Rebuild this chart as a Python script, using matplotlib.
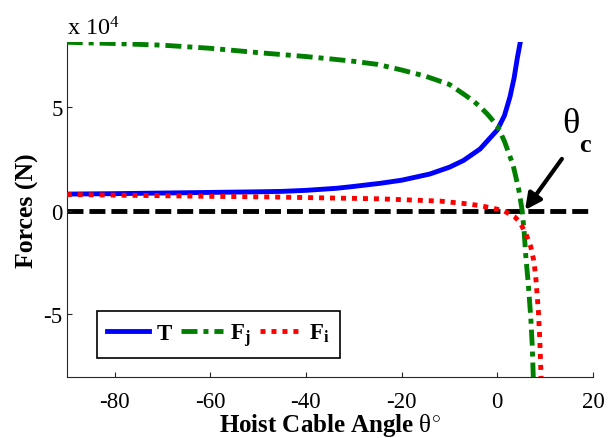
import matplotlib
matplotlib.use("Agg")
import matplotlib.pyplot as plt

plt.rcParams['font.family'] = ['Liberation Serif', 'DejaVu Serif']
plt.rcParams['mathtext.fontset'] = 'custom'
plt.rcParams['mathtext.rm'] = 'Liberation Serif'
plt.rcParams['mathtext.it'] = 'Liberation Serif:italic'
plt.rcParams['mathtext.bf'] = 'Liberation Serif:bold'
plt.rcParams['axes.unicode_minus'] = False
plt.rcParams['lines.scale_dashes'] = False

# ---- data (forces in N, angle in degrees) ----
theta_T = [-90, -80, -70, -60, -50, -45, -40, -33.6, -30, -24.5, -20, -14.1,
           -10, -7.1, -3.6, 0, 1.5, 2.65, 3.5, 4.2, 4.8]
T = [8000, 8200, 8500, 8800, 9100, 9300, 9800, 10800, 11700, 13200, 14700,
     17700, 21000, 24200, 29800, 39000, 46000, 55000, 64000, 74000, 81400]

theta_Fj = [-90, -80, -70, -60, -50, -40, -35, -30, -25, -20, -15, -10, -7,
            -5, -3.5, -2, 0, 1.5, 3.3, 4.5, 5.2, 5.6, 6.0, 6.5, 7.0, 7.3, 7.52]
Fj = [81400, 80800, 80000, 78500, 76400, 74500, 73400, 72200, 70700, 68000,
      65000, 61000, 56300, 53000, 50000, 46500, 41000, 33500, 22000, 10000,
      0, -10000, -23300, -36000, -52000, -65000, -80600]

theta_Fi = [-90, -80, -70, -60, -47, -40, -24.5, -20, -12, -6.4, -3.6, -1,
            1.25, 2.5, 3.7, 4.5, 5.1, 6.1, 7.0, 7.6, 8.0, 8.3, 8.6, 8.9, 9.15]
Fi = [7800, 7500, 7200, 6900, 6600, 6300, 5700, 5300, 4600, 3300, 2400, 1200,
      0, -1500, -3200, -5000, -7300, -12000, -17500, -24000, -31000, -40000,
      -49000, -63500, -80600]

zero_x = [-90, 20]
zero_y = [0, 0]

xticks = [-80, -60, -40, -20, 0, 20]
yticks = [-50000, 0, 50000]
ytick_labels = ['-5', '0', '5']
labels = ['T', r'$\mathbf{F_j}$', r'$\mathbf{F_i}$']

fig = plt.figure(figsize=(6.15, 4.39), dpi=100)
ax = fig.add_axes([0.1085, 0.1383, 0.8557, 0.7631])

lw = 3.5
ax.plot(zero_x, zero_y, color='k', lw=lw, linestyle=(0, (11.5, 4.3)),
        dash_capstyle='butt', zorder=1)
l1, = ax.plot(theta_T, T, color='#0000ff', lw=lw, label=labels[0], zorder=2)
l2, = ax.plot(theta_Fj, Fj, color='#007f00', lw=lw, label=labels[1],
              linestyle=(0, (11.5, 4.3, 3.6, 4.3)), zorder=3)
l3, = ax.plot(theta_Fi, Fi, color='#ff0000', lw=lw, label=labels[2],
              linestyle=(0, (3.6, 4.3)), zorder=4)

ax.set_xlim(-90, 20)
ax.set_ylim(-80600, 81400)
ax.set_xticks(xticks)
ax.set_xticklabels([str(v) for v in xticks])
ax.set_yticks(yticks)
ax.set_yticklabels(ytick_labels)

for s in ['top', 'right']:
    ax.spines[s].set_visible(False)
for s in ['left', 'bottom']:
    ax.spines[s].set_color('#262626')
    ax.spines[s].set_linewidth(0.8)
ax.tick_params(direction='in', length=3.5, width=0.8, color='#262626',
               labelsize=16.5)
ax.tick_params(axis='x', pad=10)
ax.tick_params(axis='y', pad=3)

ax.set_xlabel(r'$\mathbf{Hoist\ Cable\ Angle}\ \mathrm{\theta}^{\circ}$',
              fontsize=18, labelpad=-1)
ax.set_ylabel('Forces (N)', fontsize=18.5, fontweight='bold', labelpad=3)

fig.text(67/615, 1 - 35/439, r'x 10$^{4}$', fontsize=17.5, va='baseline',
         ha='left')

# theta_c annotation
ax.annotate('', xy=(5.8, 300), xytext=(13.5, 25000),
            arrowprops=dict(arrowstyle='-|>', lw=3, color='k',
                            mutation_scale=24, shrinkA=0, shrinkB=0))
ax.text(13.5, 42000, 'θ', fontsize=26, ha='left', va='center')
ax.text(18.4, 31800, 'c', fontsize=19, fontweight='bold', ha='center',
        va='center')

leg = ax.legend(handles=[l1, l2, l3], loc='lower left',
                bbox_to_anchor=(0.057, 0.057), borderaxespad=0, ncol=3,
                fancybox=False, framealpha=1, edgecolor='k',
                prop={'weight': 'bold', 'size': 16.5},
                handlelength=1.85, handletextpad=0.3, columnspacing=0.4,
                borderpad=0.45)
leg.get_frame().set_linewidth(1.2)

fig.savefig('out.png', dpi=100)
